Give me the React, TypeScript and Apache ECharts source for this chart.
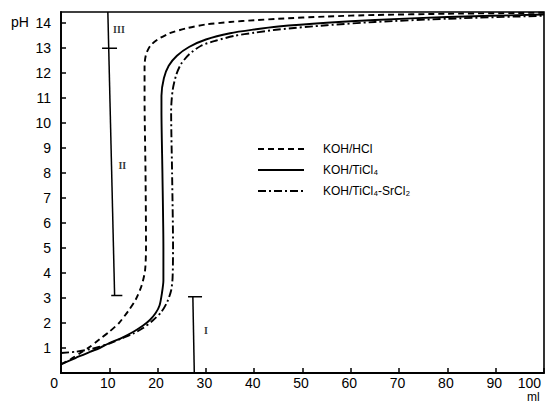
import React, { useEffect, useRef } from "react";
import * as echarts from "echarts";

// Titration curves: volume of KOH added (ml) vs. pH
const volHCl = [0, 2, 4, 6, 8, 10, 12, 14, 15.5, 16.7, 17.4, 17.6, 17.5, 17.3, 17.3, 17.6, 18.5, 20, 22.5, 26, 30, 35, 40, 45, 55, 65, 80, 100];
const phHCl = [0.35, 0.55, 0.8, 1.05, 1.35, 1.65, 2.0, 2.5, 2.95, 3.5, 4.1, 5.0, 8.0, 11.0, 12.3, 12.75, 13.1, 13.35, 13.6, 13.8, 13.95, 14.05, 14.12, 14.18, 14.27, 14.33, 14.38, 14.42];

const volTiCl4 = [0, 3, 6, 8, 10, 12.5, 15, 17, 18.4, 19.6, 20.4, 20.9, 21.2, 21.2, 21.0, 20.8, 20.8, 21.3, 22.3, 24, 26.5, 30, 35, 40, 45, 55, 65, 80, 100];
const phTiCl4 = [0.35, 0.6, 0.85, 1.0, 1.2, 1.4, 1.65, 1.9, 2.12, 2.4, 2.7, 3.2, 3.7, 5.0, 8.0, 10.5, 11.1, 11.8, 12.3, 12.7, 13.05, 13.35, 13.6, 13.75, 13.87, 14.02, 14.13, 14.25, 14.35];

const volTiSr = [0, 3, 6, 8, 10, 12.5, 15, 17, 19, 20.8, 22, 22.8, 23.1, 23.2, 23.0, 22.8, 23.1, 23.8, 24.8, 26.5, 29, 32, 36, 40, 45, 55, 65, 80, 100];
const phTiSr = [0.8, 0.85, 0.95, 1.05, 1.18, 1.38, 1.58, 1.8, 2.1, 2.45, 2.85, 3.3, 3.8, 5.0, 8.0, 10.5, 11.3, 11.9, 12.35, 12.75, 13.1, 13.3, 13.5, 13.62, 13.75, 13.92, 14.05, 14.18, 14.3];

const seriesNames = ["KOH/HCl", "KOH/TiCl₄", "KOH/TiCl₄-SrCl₂"];

// pH range brackets marked on the plot
const bracketUpper = [[9.7, 14.45], [11.1, 3.1]];
const bracketUpperBar13 = [[8.5, 13], [11.6, 13]];
const bracketUpperBar3 = [[10.4, 3.1], [12.7, 3.1]];
const bracketLower = [[27.3, 3.05], [27.6, 0]];
const bracketLowerBar = [[26.3, 3.05], [29.2, 3.05]];
const regionLabels = [
  { name: "III", value: [12.0, 13.75] },
  { name: "II", value: [12.7, 8.3] },
  { name: "I", value: [30.0, 1.7] },
];

const FONT = "Liberation Sans, Arial, sans-serif";

const zip = (xs: number[], ys: number[]) => xs.map((x, i) => [x, ys[i]]);

const curve = (name: string, data: number[][], type: any) => ({
  name,
  type: "line",
  data,
  symbol: "none",
  smooth: 0.25,
  silent: true,
  lineStyle: { color: "#000", width: 1.9, type },
  itemStyle: { color: "#000" },
});

const mark = (data: number[][]) => ({
  type: "line",
  data,
  symbol: "none",
  silent: true,
  lineStyle: { color: "#000", width: 1.5 },
});

export default function App() {
  const ref = useRef<HTMLDivElement>(null);

  useEffect(() => {
    if (!ref.current) return;
    const chart = echarts.init(ref.current, undefined, { renderer: "svg" });
    chart.setOption({
      animation: false,
      backgroundColor: "#fff",
      grid: {
        left: 61,
        right: 10,
        top: 12,
        bottom: 31,
        show: true,
        borderColor: "#000",
        borderWidth: 1.6,
      },
      xAxis: {
        type: "value",
        min: 0,
        max: 100,
        interval: 10,
        axisLine: { lineStyle: { color: "#000", width: 1.8 } },
        axisTick: { inside: true, length: 5, lineStyle: { color: "#000", width: 1.5 } },
        axisLabel: {
          color: "#000",
          fontSize: 14,
          fontFamily: FONT,
          margin: 3,
          alignMinLabel: "right",
          alignMaxLabel: "right",
          padding: [0, 3, 0, 0],
        },
        splitLine: { show: false },
      },
      yAxis: {
        type: "value",
        min: 0,
        max: 14.45,
        interval: 1,
        axisLine: { lineStyle: { color: "#000", width: 1.8 } },
        axisTick: { inside: true, length: 5, lineStyle: { color: "#000", width: 1.5 } },
        axisLabel: {
          color: "#000",
          fontSize: 14,
          fontFamily: FONT,
          margin: 10,
          showMinLabel: false,
        },
        splitLine: { show: false },
      },
      legend: {
        data: seriesNames,
        orient: "vertical",
        left: 252,
        top: 138,
        itemWidth: 46,
        itemHeight: 14,
        itemGap: 9,
        itemStyle: { opacity: 0 },
        textStyle: {
          color: "#000",
          fontSize: 12,
          fontFamily: FONT,
          padding: [0, 0, 0, 14],
        },
        selectedMode: false,
      },
      graphic: [
        {
          type: "text",
          left: 11,
          top: 15,
          style: { text: "pH", font: `14px ${FONT}`, fill: "#000" },
        },
        {
          type: "text",
          left: 527,
          top: 391,
          style: { text: "ml", font: `12px ${FONT}`, fill: "#000" },
        },
      ],
      series: [
        curve(seriesNames[0], zip(volHCl, phHCl), [6, 4]),
        curve(seriesNames[1], zip(volTiCl4, phTiCl4), "solid"),
        curve(seriesNames[2], zip(volTiSr, phTiSr), [8, 3, 2, 3]),
        mark(bracketUpper),
        mark(bracketUpperBar13),
        mark(bracketUpperBar3),
        mark(bracketLower),
        mark(bracketLowerBar),
        {
          type: "scatter",
          data: regionLabels,
          symbolSize: 0,
          silent: true,
          label: {
            show: true,
            position: "inside",
            formatter: (p: any) => p.name,
            color: "#000",
            fontSize: 10,
            fontWeight: "bold",
            fontFamily: "Liberation Serif, Times New Roman, serif",
          },
        },
      ],
    });
    return () => chart.dispose();
  }, []);

  return (
    <div
      ref={ref}
      style={{ position: "fixed", left: 0, top: 0, width: 554, height: 404, background: "#fff" }}
    />
  );
}
